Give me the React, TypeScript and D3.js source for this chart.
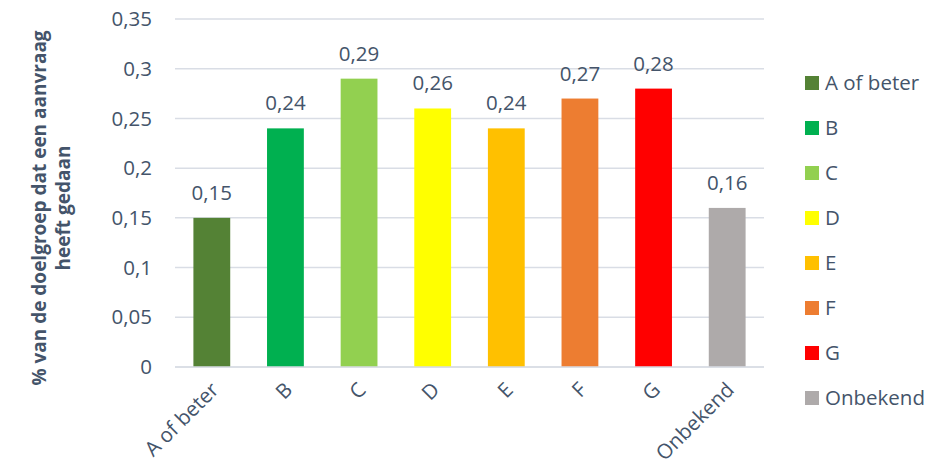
import React from "react";
import * as d3 from "d3";

const categories = ["A of beter", "B", "C", "D", "E", "F", "G", "Onbekend"];
const values = [0.15, 0.24, 0.29, 0.26, 0.24, 0.27, 0.28, 0.16];
const colors = ["#548235", "#00B050", "#92D050", "#FFFF00", "#FFC000", "#ED7D31", "#FF0000", "#AEAAAA"];
const yTicks = [0, 0.05, 0.1, 0.15, 0.2, 0.25, 0.3, 0.35];
const yLabelLines = ["% van de doelgroep dat een aanvraag", "heeft gedaan"];

const W = 937, H = 466;
const FONT = "'Open Sans', sans-serif";
const TXT = "#44546A";

const fmt = (v: number) => String(+v.toFixed(2)).replace(".", ",");

export default function App() {
  const x = d3.scaleBand<string>().domain(categories).range([175, 764]).paddingInner(0.5).paddingOuter(0.25);
  const y = d3.scaleLinear().domain([0, 0.35]).range([367, 19]);
  return (
    <svg width={W} height={H} style={{ position: "absolute", left: 0, top: 0, fontFamily: FONT }}>
      <rect width={W} height={H} fill="#fff" />
      {yTicks.map((t) => (
        <g key={t}>
          <line x1={175} x2={764} y1={y(t)} y2={y(t)} stroke="#D9DDE5" strokeWidth={1.5} />
          <text x={152} y={y(t)} dy="0.35em" textAnchor="end" fontSize={20.5} fill={TXT}>{fmt(t)}</text>
        </g>
      ))}
      {categories.map((c, i) => (
        <g key={c}>
          <rect x={x(c)} y={y(values[i])} width={x.bandwidth()} height={y(0) - y(values[i])} fill={colors[i]} />
          <text x={x(c)! + x.bandwidth() / 2} y={y(values[i]) - 18} textAnchor="middle" fontSize={20.5} fill={TXT}>{fmt(values[i])}</text>
          <text transform={`translate(${x(c)! + x.bandwidth() / 2 + 3},${386}) rotate(-45)`} dy="0.35em" textAnchor="end" fontSize={20.5} fill={TXT}>{c}</text>
        </g>
      ))}
      <line x1={175} x2={764} y1={y(0)} y2={y(0)} stroke="#D9DDE5" strokeWidth={1.5} />
      <g transform={`translate(51,208) rotate(-90)`}>
        {yLabelLines.map((l, i) => (
          <text key={l} x={0} y={(i - 0.5) * 24} dy="0.35em" textAnchor="middle" fontSize={19} fontWeight="bold" fill="#44546A">{l}</text>
        ))}
      </g>
      {categories.map((c, i) => (
        <g key={"lg" + c} transform={`translate(805,${83 + i * 45})`}>
          <rect x={0} y={-7} width={14} height={14} fill={colors[i]} />
          <text x={20} y={0} dy="0.35em" fontSize={20.5} fill={TXT}>{c}</text>
        </g>
      ))}
    </svg>
  );
}
